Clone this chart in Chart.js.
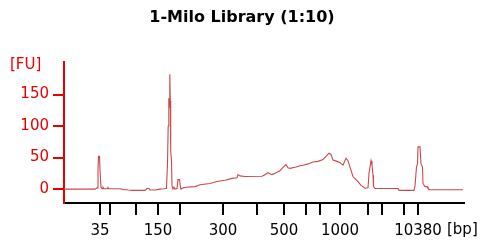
<!DOCTYPE html>
<html>
<head>
<meta charset="utf-8">
<script src="https://cdn.jsdelivr.net/npm/chart.js@4.4.0/dist/chart.umd.min.js"></script>
<style>
  body { margin: 0; background: #fff; }
  #wrap { width: 493px; height: 244px; }
</style>
</head>
<body>
<div id="wrap"><canvas id="myChart"></canvas></div>
<script>
// ladder sizes [bp] and their migration times [s]
const ladderSizes = [35, 50, 100, 150, 200, 300, 400, 500, 600, 700, 1000, 2000, 3000, 7000, 10380];
const ladderTimes = [47.2, 49.2, 54.4, 58.8, 63.2, 71.8, 78.6, 84.0, 88.4, 91.2, 95.2, 100.8, 103.6, 108.0, 110.8];
const labeledSizes = [35, 150, 300, 500, 1000, 10380];
const yTicks = [0, 50, 100, 150];

// electropherogram trace: time [s] and fluorescence [FU]
const traceTime = [
  40.0, 46.2, 46.6, 46.8, 46.9, 47.1, 47.2, 47.4, 47.6, 47.8, 48.0, 48.6, 48.8, 49.0,
  51.2, 52.0, 52.4, 52.8, 53.6, 56.2, 56.6, 57.0, 57.2, 58.2, 59.2, 60.0, 60.4,
  60.5, 60.7, 60.84, 60.96, 61.06, 61.16, 61.26, 61.34, 61.5, 61.6, 61.8, 62.0,
  62.2, 62.6, 62.8, 63.1, 63.3, 63.4, 63.8, 64.4, 66.2, 67.2, 69.2, 70.6, 72.2,
  73.6, 74.6, 74.8, 75.2, 76.2, 79.6, 80.0, 80.8, 81.6, 82.2, 83.2, 83.6, 84.4,
  84.8, 85.2, 86.4, 87.2, 87.8, 88.8, 89.8, 90.8, 91.8, 92.4, 93.0, 93.4, 93.8,
  94.6, 95.2, 95.8, 96.4, 96.8, 97.2, 97.8, 98.4, 98.8, 99.4, 99.8, 100.2, 100.8,
  101.0, 101.4, 101.6, 101.8, 101.9, 102.2, 106.8, 107.0, 110.0, 110.2, 110.5,
  110.7, 110.8, 111.2, 111.4, 111.7, 111.8, 112.2, 112.6, 112.8, 113.2, 119.8
];
const traceFU = [
  0, 0, 2, 30, 52, 52, 30, 3, 0.5, 3, 0.5, 0.5, 2.5, 0.5,
  0.5, -1, -1, -1.5, -2, -2, 1, 1, -1.5, -1.5, 0, 0.5, 1,
  4, 40, 100, 144, 130, 182, 140, 60, 45, 5, 0, 3,
  0, 1, 15, 15, 3, 0, 2, 3, 4, 7, 9, 12, 14,
  17, 18, 23, 21, 20, 20.5, 22, 26, 23, 25, 29, 33, 39,
  34, 33, 35, 37, 38, 40, 43, 44, 47, 52, 57, 55, 46,
  44, 42, 38, 49, 45, 35, 20, 15, 12, 6, 4, 1.5, 2,
  25, 45, 38, 22, 4, 1, 1, -2, -2, 5, 35,
  40, 67, 67, 40, 35, 9, 4, 4, 1, -1, -1
];

const points = traceTime.map((t, i) => ({ x: t, y: traceFU[i] }));

const axisRed = 'rgb(230,0,0)';
const tickFont = { family: 'DejaVu Sans', size: 15 };

const extraText = {
  id: 'extraText',
  afterDraw(chart) {
    const ctx = chart.ctx;
    ctx.save();
    ctx.font = '15px "DejaVu Sans"';
    ctx.textBaseline = 'middle';
    ctx.textAlign = 'left';
    ctx.fillStyle = axisRed;
    ctx.fillText('[FU]', 10, 65);
    ctx.fillStyle = '#000';
    ctx.fillText('[bp]', 447, 230);
    ctx.restore();
  }
};

const ctx = document.getElementById('myChart').getContext('2d');
const myChart = new Chart(ctx, {
  type: 'scatter',
  data: {
    datasets: [{
      data: points,
      showLine: true,
      borderColor: '#cc4848',
      borderWidth: 1.1,
      pointRadius: 0,
      tension: 0
    }]
  },
  options: {
    responsive: true,
    maintainAspectRatio: false,
    animation: false,
    // left padding keeps the title centred where the original has it
    layout: { padding: { left: 20, right: 29, top: 0, bottom: 0 } },
    plugins: {
      legend: { display: false },
      tooltip: { enabled: false },
      title: {
        display: true,
        text: '1-Milo Library (1:10)',
        color: '#000',
        font: { family: 'DejaVu Sans', size: 16, weight: 'bold', lineHeight: 1.2 },
        padding: { top: 8, bottom: 34.8 }
      }
    },
    scales: {
      x: {
        type: 'linear',
        min: 40,
        max: 120,
        afterBuildTicks: (scale) => {
          scale.ticks = ladderTimes.map(v => ({ value: v }));
        },
        afterFit: (scale) => { scale.height = 41; },
        border: { color: '#000', width: 2 },
        grid: { drawOnChartArea: false, color: '#000', lineWidth: 2, tickLength: 12 },
        ticks: {
          autoSkip: false,
          maxRotation: 0,
          color: '#000',
          font: tickFont,
          padding: 7,
          callback: (value, index) => {
            const s = ladderSizes[index];
            return labeledSizes.includes(s) ? String(s) : '';
          }
        }
      },
      y: {
        min: -22,
        max: 201.6,
        afterBuildTicks: (scale) => {
          scale.ticks = yTicks.map(v => ({ value: v }));
        },
        afterFit: (scale) => { scale.width = 44; },
        border: { color: axisRed, width: 2 },
        grid: { drawOnChartArea: false, color: axisRed, lineWidth: 2, tickLength: 11 },
        ticks: { color: axisRed, font: tickFont, padding: 4 }
      }
    }
  },
  plugins: [extraText]
});
</script>
</body>
</html>
